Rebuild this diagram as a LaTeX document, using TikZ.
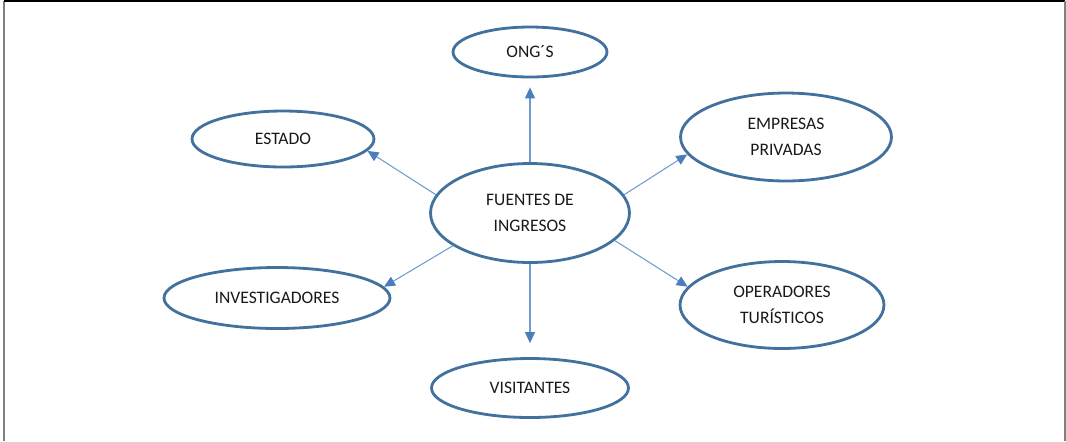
\documentclass[tikz,border=0pt]{standalone}
\usepackage{fontspec}
\setmainfont{Carlito}
\usetikzlibrary{shapes.geometric, arrows.meta}

\definecolor{borde}{RGB}{65,113,156}
\definecolor{flecha}{RGB}{110,155,210}
\definecolor{punta}{RGB}{74,126,187}
\definecolor{texto}{RGB}{25,25,25}

\tikzset{
  fuente/.style={ellipse, draw=borde, line width=1.6pt, inner sep=0pt,
    align=center, text=texto, font=\fontsize{10}{14.5}\selectfont},
  enlace/.style={draw=flecha, line width=0.6pt,
    -{Triangle[length=0.22cm, width=0.2cm, color=punta]}}
}

\begin{document}
\begin{tikzpicture}[x=0.02cm, y=-0.02cm]
  \useasboundingbox (0,0) rectangle (1066,441);

  % Marco
  \draw[gray, line width=1.2pt] (4,441) -- (4,1);
  \draw[black, line width=1.2pt] (4,0.6) -- (1065,0.6);
  \draw[gray, line width=1.2pt] (1065,1) -- (1065,441);

  % Elipses
  \node[fuente, minimum width=3.98cm, minimum height=1.98cm] (fuentes) at (530,213) {FUENTES DE\\INGRESOS};
  \node[fuente, minimum width=3.08cm, minimum height=1.0cm] (ong) at (530,52) {ONG´S};
  \node[fuente, minimum width=3.64cm, minimum height=1.12cm] (estado) at (283,139) {ESTADO};
  \node[fuente, minimum width=4.22cm, minimum height=1.76cm] (empresas) at (786,137) {EMPRESAS\\PRIVADAS};
  \node[fuente, minimum width=4.52cm, minimum height=1.22cm] (investigadores) at (277,298) {INVESTIGADORES};
  \node[fuente, minimum width=4.08cm, minimum height=1.74cm] (operadores) at (782,305) {OPERADORES\\TURÍSTICOS};
  \node[fuente, minimum width=3.94cm, minimum height=1.18cm] (visitantes) at (530,388) {VISITANTES};

  % Flechas
  \draw[enlace, shorten >=0.18cm] (fuentes.north) -- (ong.south);
  \draw[enlace, shorten >=0.28cm] (fuentes.south) -- (visitantes.north);
  \draw[enlace] (fuentes.169) -- (estado.-8);
  \draw[enlace] (fuentes.11) -- (empresas.190);
  \draw[enlace] (fuentes.203) -- (investigadores.6);
  \draw[enlace] (fuentes.-18) -- (operadores.169);

\end{tikzpicture}
\end{document}
